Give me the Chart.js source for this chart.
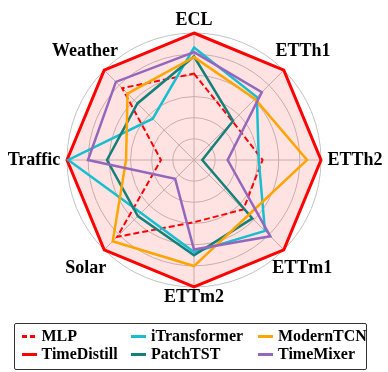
<!DOCTYPE html>
<html><head><meta charset="utf-8">
<script src="https://cdn.jsdelivr.net/npm/chart.js@4.4.1/dist/chart.umd.min.js"></script>
<style>
html,body{margin:0;padding:0;background:#fff;}
#wrap{position:relative;width:388px;height:372px;overflow:hidden;}
#legend{position:absolute;left:14px;top:323px;width:351px;height:45px;border:1px solid #333;border-radius:2px;font:bold 16px "Liberation Serif","Times New Roman",serif;color:#000;}
.item{position:absolute;height:18px;line-height:18px;white-space:nowrap;}
.handle{position:absolute;left:0;top:7.5px;height:3px;width:15px;}
.lbl{position:absolute;left:20px;top:0;}
</style></head>
<body><div id="wrap"><canvas id="c" width="388" height="372"></canvas><div id="legend"></div></div>
<script>
// ---- data ----
const categories = ['ECL','ETTh1','ETTh2','ETTm1','ETTm2','Solar','Traffic','Weather'];
const seriesNames = ['MLP','TimeDistill','iTransformer','PatchTST','ModernTCN','TimeMixer'];
const mlp          = [0.68, 0.43, 0.54, 0.55, 0.49, 0.855, 0.26, 0.80];
const timeDistill  = [1, 1, 1, 1, 1, 1, 1, 1];
const iTransformer = [0.885, 0.70, 0.51, 0.79, 0.725, 0.59, 0.99, 0.46];
const patchTST     = [0.815, 0.435, 0.065, 0.65, 0.75, 0.625, 0.685, 0.63];
const modernTCN    = [0.81, 0.68, 0.89, 0.61, 0.835, 0.905, 0.535, 0.74];
const timeMixer    = [0.85, 0.755, 0.265, 0.85, 0.705, 0.21, 0.835, 0.87];
const rTicks = [0, 1/6, 2/6, 3/6, 4/6, 5/6, 1];

// ---- styles ----
const seriesValues = [mlp, timeDistill, iTransformer, patchTST, modernTCN, timeMixer];
const colors = ['#ff0000','#ff0000','#17becf','#13807a','#ffa500','#9467bd'];
const widths = [2, 3, 2.5, 2.5, 2.5, 2.5];
const dashes = [[6,3], [], [], [], [], []];
const orders = [5, 6, 4, 3, 2, 1];
const labelOffsets = [13, 27, 34, 26, 10, 26, 33, 27];

const datasets = seriesNames.map((name, i) => ({
  label: name,
  data: seriesValues[i],
  borderColor: colors[i],
  borderWidth: widths[i],
  borderDash: dashes[i],
  borderJoinStyle: 'miter',
  backgroundColor: i === 1 ? 'rgba(255,0,0,0.11)' : 'transparent',
  fill: i === 1 ? 'origin' : false,
  pointRadius: 0,
  pointHoverRadius: 0,
  order: orders[i]
}));

const pointLabelPlugin = {
  id: 'customPointLabels',
  afterDraw(chart) {
    const s = chart.scales.r, ctx = chart.ctx;
    ctx.save();
    ctx.font = 'bold 18px "Liberation Serif", "Times New Roman", serif';
    ctx.fillStyle = '#000';
    ctx.textAlign = 'center';
    ctx.textBaseline = 'middle';
    categories.forEach((c, i) => {
      const p = s.getPointPosition(i, s.drawingArea + labelOffsets[i]);
      ctx.fillText(c, p.x, p.y);
    });
    ctx.restore();
  }
};

new Chart(document.getElementById('c'), {
  type: 'radar',
  data: { labels: categories, datasets },
  options: {
    responsive: false,
    animation: false,
    devicePixelRatio: 1,
    layout: { padding: { top: 33, bottom: 85, left: 0, right: 0 } },
    plugins: { legend: { display: false }, tooltip: { enabled: false } },
    elements: { line: { tension: 0 } },
    scales: {
      r: {
        min: 0, max: 1,
        ticks: { display: false },
        afterBuildTicks: s => { s.ticks = rTicks.map(v => ({ value: v })); },
        pointLabels: { display: false },
        grid: { circular: true, color: '#c2c2c2', lineWidth: 1 },
        angleLines: { color: '#c2c2c2', lineWidth: 1 }
      }
    }
  },
  plugins: [pointLabelPlugin]
});

// ---- legend (column-major, 3 columns x 2 rows) ----
const legend = document.getElementById('legend');
const colX = [6.5, 116, 243];
const rowY = [3, 21.3];
seriesNames.forEach((name, i) => {
  const col = Math.floor(i / 2), row = i % 2;
  const item = document.createElement('div');
  item.className = 'item';
  item.style.left = colX[col] + 'px';
  item.style.top = rowY[row] + 'px';
  const h = document.createElement('span');
  h.className = 'handle';
  if (dashes[i].length) {
    h.style.background = `repeating-linear-gradient(to right, ${colors[i]} 0 5px, transparent 5px 8px)`;
    h.style.width = '13px';
  } else {
    h.style.background = colors[i];
  }
  const t = document.createElement('span');
  t.className = 'lbl';
  t.textContent = name;
  item.appendChild(h); item.appendChild(t);
  legend.appendChild(item);
});
</script>
</body></html>
